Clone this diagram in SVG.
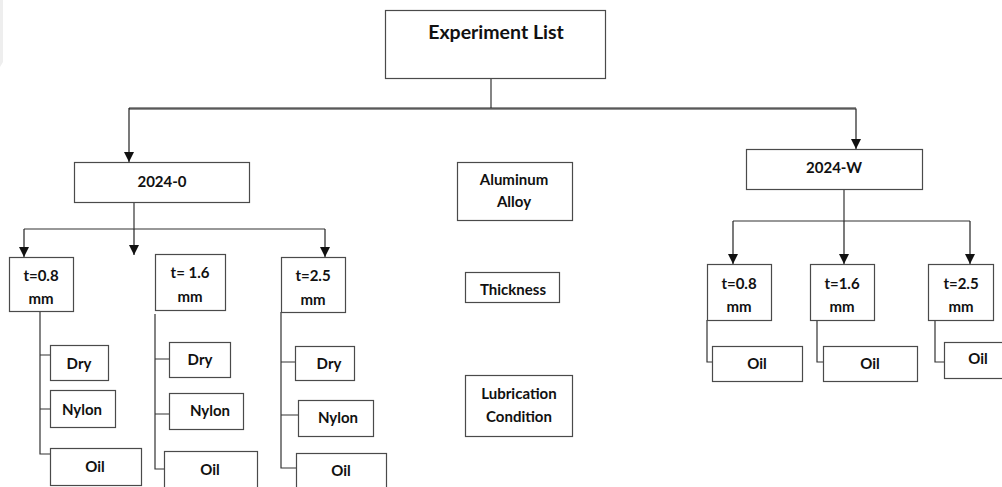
<svg xmlns="http://www.w3.org/2000/svg" width="1002" height="487" viewBox="0 0 1002 487">
  <style>
    .box { fill: #ffffff; stroke: #4a4a4a; stroke-width: 1.2; }
    .wire { fill: none; stroke: #333333; stroke-width: 1.2; }
    .arrow { fill: none; stroke: #222222; stroke-width: 1.2; marker-end: url(#head); }
    text { font-family: Lato, "Open Sans", "Liberation Sans", sans-serif; font-weight: bold; font-size: 15px; fill: #111111; text-anchor: middle; dominant-baseline: central; }
    .title { font-size: 19.5px; }
  </style>
  <defs>
    <marker id="head" viewBox="0 0 10 10" refX="10" refY="5" markerUnits="userSpaceOnUse" markerWidth="11" markerHeight="10" orient="auto">
      <path d="M0,0 L10,5 L0,10 z" fill="#111111"/>
    </marker>
  </defs>
  <rect width="1002" height="487" fill="#ffffff"/>
  <!-- pale strip along the left edge -->
  <path d="M0,0 H3 V62 L0,67 z" fill="#eeeeee"/>

  <!-- connectors -->
  <g id="connectors">
    <!-- root to categories -->
    <path class="wire" d="M491,79 V108"/>
    <path class="arrow" d="M856,108 H129 M129,108 V162"/>
    <path class="arrow" d="M129,109 H856 V149"/>
    <!-- 2024-0 to thickness -->
    <path class="wire" d="M134,202 V229"/>
    <path class="wire" d="M24,229 H325"/>
    <path class="arrow" d="M24,229 V257"/>
    <path class="arrow" d="M134,229 V255"/>
    <path class="arrow" d="M325,229 V257"/>
    <!-- t=0.8 to lubrication -->
    <path class="wire" d="M40,311 V454 H50 M40,355 H50 M40,409 H50"/>
    <!-- t=1.6 to lubrication -->
    <path class="wire" d="M155,314 V469 H164 M155,359 H169 M155,414 H169"/>
    <!-- t=2.5 to lubrication -->
    <path class="wire" d="M281,312 V468 H296 M281,362 H295 M281,415 H298"/>
    <!-- 2024-W to thickness -->
    <path class="wire" d="M844,183 V221"/>
    <path class="wire" d="M733,221 H970"/>
    <path class="arrow" d="M733,221 V264"/>
    <path class="arrow" d="M844,221 V264"/>
    <path class="arrow" d="M970,221 V264"/>
    <!-- 2024-W thickness to oil -->
    <path class="wire" d="M707,320 V362 H713"/>
    <path class="wire" d="M817,320 V362 H823"/>
    <path class="wire" d="M935,320 V362 H944"/>
  </g>

  <!-- root -->
  <g id="experiment-list">
    <rect class="box" x="385.5" y="10.5" width="220" height="68"/>
    <text class="title" x="496" y="31">Experiment List</text>
  </g>

  <!-- categories -->
  <g id="alloy-2024-0">
    <rect class="box" x="74.5" y="162.5" width="175" height="40"/>
    <text x="162" y="181">2024-0</text>
  </g>
  <g id="alloy-2024-w">
    <rect class="box" x="746.5" y="149.5" width="176" height="40"/>
    <text x="834" y="167">2024-W</text>
  </g>

  <!-- legend -->
  <g id="legend-alloy">
    <rect class="box" x="457.5" y="162.5" width="115" height="58"/>
    <text x="514" y="179">Aluminum</text>
    <text x="514" y="201">Alloy</text>
  </g>
  <g id="legend-thickness">
    <rect class="box" x="465.5" y="272.5" width="94" height="30"/>
    <text x="513" y="289">Thickness</text>
  </g>
  <g id="legend-lubrication">
    <rect class="box" x="465.5" y="375.5" width="107" height="61"/>
    <text x="519" y="393">Lubrication</text>
    <text x="519" y="416">Condition</text>
  </g>

  <!-- 2024-0 thickness -->
  <g id="o-t08">
    <rect class="box" x="9.5" y="257.5" width="64" height="54"/>
    <text x="41" y="275">t=0.8</text>
    <text x="41" y="298">mm</text>
  </g>
  <g id="o-t16">
    <rect class="box" x="155.5" y="254.5" width="70" height="56"/>
    <text x="190" y="272">t= 1.6</text>
    <text x="190" y="296">mm</text>
  </g>
  <g id="o-t25">
    <rect class="box" x="281.5" y="257.5" width="64" height="55"/>
    <text x="313" y="275">t=2.5</text>
    <text x="313" y="299">mm</text>
  </g>

  <!-- 2024-0 lubrication, t=0.8 -->
  <g id="o-t08-dry">
    <rect class="box" x="50.5" y="345.5" width="58" height="35"/>
    <text x="79" y="363">Dry</text>
  </g>
  <g id="o-t08-nylon">
    <rect class="box" x="50.5" y="390.5" width="65" height="37"/>
    <text x="82" y="409">Nylon</text>
  </g>
  <g id="o-t08-oil">
    <rect class="box" x="50.5" y="448.5" width="91" height="37"/>
    <text x="95" y="466">Oil</text>
  </g>

  <!-- 2024-0 lubrication, t=1.6 -->
  <g id="o-t16-dry">
    <rect class="box" x="169.5" y="342.5" width="61" height="35"/>
    <text x="200" y="359">Dry</text>
  </g>
  <g id="o-t16-nylon">
    <rect class="box" x="169.5" y="393.5" width="74" height="36"/>
    <text x="210" y="410">Nylon</text>
  </g>
  <g id="o-t16-oil">
    <rect class="box" x="164.5" y="451.5" width="93" height="40"/>
    <text x="210" y="469">Oil</text>
  </g>

  <!-- 2024-0 lubrication, t=2.5 -->
  <g id="o-t25-dry">
    <rect class="box" x="295.5" y="346.5" width="59" height="34"/>
    <text x="329" y="363">Dry</text>
  </g>
  <g id="o-t25-nylon">
    <rect class="box" x="298.5" y="400.5" width="75" height="36"/>
    <text x="338" y="417">Nylon</text>
  </g>
  <g id="o-t25-oil">
    <rect class="box" x="296.5" y="453.5" width="90" height="40"/>
    <text x="341" y="470">Oil</text>
  </g>

  <!-- 2024-W thickness -->
  <g id="w-t08">
    <rect class="box" x="707.5" y="264.5" width="64" height="56"/>
    <text x="739" y="283">t=0.8</text>
    <text x="739" y="306">mm</text>
  </g>
  <g id="w-t16">
    <rect class="box" x="810.5" y="264.5" width="64" height="56"/>
    <text x="842" y="283">t=1.6</text>
    <text x="842" y="306">mm</text>
  </g>
  <g id="w-t25">
    <rect class="box" x="928.5" y="264.5" width="65" height="56"/>
    <text x="961" y="283">t=2.5</text>
    <text x="961" y="306">mm</text>
  </g>

  <!-- 2024-W lubrication -->
  <g id="w-t08-oil">
    <rect class="box" x="712.5" y="346.5" width="90" height="35"/>
    <text x="757" y="363">Oil</text>
  </g>
  <g id="w-t16-oil">
    <rect class="box" x="823.5" y="346.5" width="94" height="35"/>
    <text x="870" y="363">Oil</text>
  </g>
  <g id="w-t25-oil">
    <rect class="box" x="944.5" y="342.5" width="62" height="36"/>
    <text x="978" y="358">Oil</text>
  </g>
</svg>
